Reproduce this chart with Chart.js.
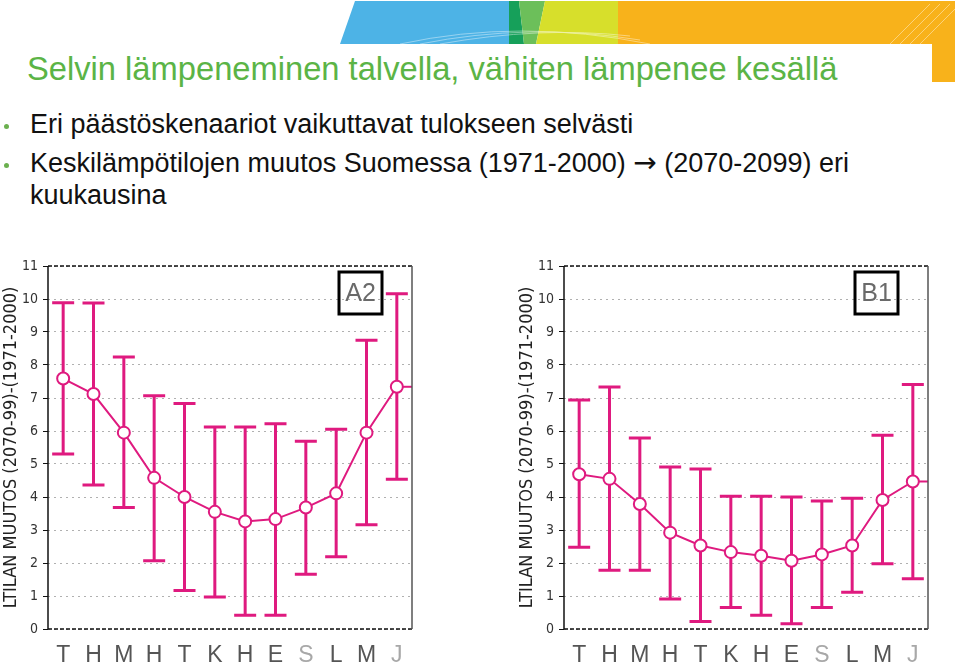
<!DOCTYPE html>
<html>
<head>
<meta charset="utf-8">
<script src="https://cdn.jsdelivr.net/npm/chart.js@4"></script>
<style>
  body { margin: 0; background: #fff; }
  #page { position: relative; width: 959px; height: 663px; overflow: hidden; font-family: "Liberation Sans", Arial, sans-serif; }
  .title { position: absolute; left: 27px; top: 50px; font-size: 32.7px; color: #5bb446; white-space: nowrap; }
  .bullet { position: absolute; left: 30px; font-size: 27px; color: #111; white-space: nowrap; line-height: 32px; }
  .bullet:before { content: ""; position: absolute; left: -26px; top: 16px; width: 5px; height: 5px; border-radius: 50%; background: #6bb04f; }
  .arrow { font-family: "DejaVu Sans", sans-serif; font-size: 28px; line-height: 20px; }
  canvas { position: absolute; }
</style>
</head>
<body>
<div id="page">
  <svg width="959" height="90" style="position:absolute;left:0;top:0">
    <polygon points="355,1 512,1 509,44 340,44" fill="#4db3e6"/>
    <polygon points="509,1 519,1 524,44 509,44" fill="#16a05a"/>
    <polygon points="519,1 545,1 536,44 524,44" fill="#6cbf5a"/>
    <polygon points="545,1 618,1 618,44 536,44" fill="#d7df2b"/>
    <polygon points="618,1 955,1 955,82 932,82 932,44 618,44" fill="#f8b21b"/>
    <g stroke="#fff" stroke-width="0.7" fill="none" opacity="0.6">
      <path d="M400,44 Q520,18 650,44"/>
      <path d="M420,44 Q530,22 640,40"/>
      <path d="M440,44 Q540,26 630,36"/>
      <path d="M900,44 L940,4"/>
      <path d="M910,44 L950,4"/>
      <path d="M920,44 L955,9"/>
      <path d="M890,44 L930,4"/>
    </g>
  </svg>
  <div class="title">Selvin lämpeneminen talvella, vähiten lämpenee kesällä</div>
  <div class="bullet" style="top:108px">Eri päästöskenaariot vaikuttavat tulokseen selvästi</div>
  <div class="bullet" style="top:147px">Keskilämpötilojen muutos Suomessa (1971-2000) <span class="arrow">&#8594;</span> (2070-2099) eri<br>kuukausina</div>
  <canvas id="chartA2" style="left:0;top:250px"></canvas>
  <canvas id="chartB1" style="left:480px;top:250px"></canvas>
</div>
<script>
// kuukaudet tammikuusta joulukuuhun
const months = ['T', 'H', 'M', 'H', 'T', 'K', 'H', 'E', 'S', 'L', 'M', 'J'];

// A2-skenaario: keskiarvo ja vaihteluvali
const a2Mean = [7.59, 7.12, 5.95, 4.58, 4.00, 3.55, 3.26, 3.33, 3.68, 4.11, 5.95, 7.34];
const a2Low  = [5.30, 4.36, 3.68, 2.07, 1.17, 0.97, 0.42, 0.42, 1.66, 2.19, 3.16, 4.54];
const a2High = [9.89, 9.88, 8.24, 7.07, 6.83, 6.12, 6.12, 6.22, 5.69, 6.05, 8.75, 10.16];

// B1-skenaario
const b1Mean = [4.69, 4.55, 3.79, 2.92, 2.53, 2.33, 2.22, 2.07, 2.26, 2.53, 3.91, 4.47];
const b1Low  = [2.48, 1.78, 1.78, 0.91, 0.23, 0.65, 0.42, 0.16, 0.65, 1.11, 1.98, 1.52];
const b1High = [6.94, 7.33, 5.79, 4.91, 4.85, 4.02, 4.02, 4.00, 3.88, 3.96, 5.87, 7.41];

const yMin = 0;
const yMax = 11;
const yTitle = 'LTILAN MUUTOS (2070-99)-(1971-2000)';

const pink = '#df1a7f';

// virhepalkit + viivan jatko oikeaan reunaan
const errorBars = {
  id: 'errorBars',
  beforeDatasetsDraw(chart) {
    const ctx = chart.ctx;
    const xs = chart.scales.x, ys = chart.scales.y;
    const o = chart.options.plugins.errorBars;
    ctx.save();
    ctx.strokeStyle = pink;
    ctx.lineWidth = 3;
    o.low.forEach((lo, i) => {
      const x = xs.getPixelForValue(i);
      const y1 = ys.getPixelForValue(lo), y2 = ys.getPixelForValue(o.high[i]);
      ctx.beginPath();
      ctx.moveTo(x, y1); ctx.lineTo(x, y2);
      ctx.moveTo(x - 11, y1); ctx.lineTo(x + 11, y1);
      ctx.moveTo(x - 11, y2); ctx.lineTo(x + 11, y2);
      ctx.stroke();
    });
    // viiva jatkuu seuraavaan tammikuuhun
    const data = chart.data.datasets[0].data;
    const last = data.length - 1;
    ctx.lineWidth = 2;
    ctx.beginPath();
    ctx.moveTo(xs.getPixelForValue(last), ys.getPixelForValue(data[last]));
    ctx.lineTo(chart.chartArea.right, ys.getPixelForValue(data[last]));
    ctx.stroke();
    ctx.restore();
  },
  afterDraw(chart) {
    const ctx = chart.ctx;
    const a = chart.chartArea;
    ctx.save();
    // kehys
    ctx.lineWidth = 1.5;
    ctx.strokeStyle = '#111';
    ctx.setLineDash([4, 2]);
    ctx.beginPath();
    ctx.moveTo(a.left, a.top); ctx.lineTo(a.right, a.top);
    ctx.moveTo(a.left, a.bottom); ctx.lineTo(a.right, a.bottom);
    ctx.stroke();
    ctx.setLineDash([]);
    ctx.beginPath();
    ctx.moveTo(a.left, a.top); ctx.lineTo(a.left, a.bottom);
    ctx.stroke();
    ctx.strokeStyle = '#555';
    ctx.beginPath();
    ctx.moveTo(a.right, a.top); ctx.lineTo(a.right, a.bottom);
    ctx.stroke();
    // skenaarion tunniste
    const label = chart.options.plugins.errorBars.label;
    const bx = a.right - 73, by = a.top + 6, bw = 43, bh = 42;
    ctx.lineWidth = 3;
    ctx.strokeStyle = '#000';
    ctx.strokeRect(bx, by, bw, bh);
    ctx.fillStyle = '#6a6a6a';
    ctx.font = '25px "Liberation Sans", Arial, sans-serif';
    ctx.textAlign = 'center';
    ctx.textBaseline = 'middle';
    ctx.fillText(label, bx + bw / 2, by + bh / 2 + 1);
    ctx.restore();
  }
};

function makeChart(id, w, h, padLeft, padRight, label, mean, low, high) {
  const cv = document.getElementById(id);
  cv.width = w; cv.height = h;
  cv.style.width = w + 'px'; cv.style.height = h + 'px';
  return new Chart(cv, {
    type: 'line',
    data: {
      labels: months,
      datasets: [{
        data: mean,
        borderColor: pink,
        borderWidth: 2,
        pointRadius: 6,
        pointBorderWidth: 2,
        pointBackgroundColor: '#fff',
        pointBorderColor: pink,
        tension: 0
      }]
    },
    plugins: [errorBars],
    options: {
      responsive: false,
      animation: false,
      layout: { padding: { top: 16, left: padLeft, right: padRight, bottom: 0 } },
      plugins: {
        legend: { display: false },
        tooltip: { enabled: false },
        errorBars: { label: label, low: low, high: high }
      },
      scales: {
        x: {
          offset: true,
          grid: { display: false },
          border: { display: false },
          ticks: {
            padding: 5,
            font: { family: '"Liberation Sans", Arial, sans-serif', size: 23 },
            color: c => (c.index === 8 || c.index === 11) ? '#a8a8a8' : '#555'
          },
          afterFit: s => { s.height = 34; }
        },
        y: {
          min: yMin,
          max: yMax,
          grid: {
            color: '#b0b0b0',
            lineWidth: 1,
            tickLength: 5,
            tickColor: '#111',
            tickBorderDash: [],
            tickWidth: 1
          },
          border: { display: false, dash: [2, 4] },
          ticks: {
            stepSize: 1,
            padding: 5,
            color: '#333',
            font: { family: '"Liberation Sans Narrow", "DejaVu Sans Condensed", Arial, sans-serif', size: 14 }
          },
          title: {
            display: true,
            text: yTitle,
            color: '#222',
            padding: { top: 1, bottom: 0 },
            font: { family: '"Liberation Sans Narrow", "DejaVu Sans Condensed", Arial, sans-serif', size: 18 }
          },
          afterFit: s => { s.width = 48; }
        }
      }
    }
  });
}

makeChart('chartA2', 480, 413, 0, 68, 'A2', a2Mean, a2Low, a2High);
makeChart('chartB1', 479, 413, 36, 31, 'B1', b1Mean, b1Low, b1High);
</script>
</body>
</html>
